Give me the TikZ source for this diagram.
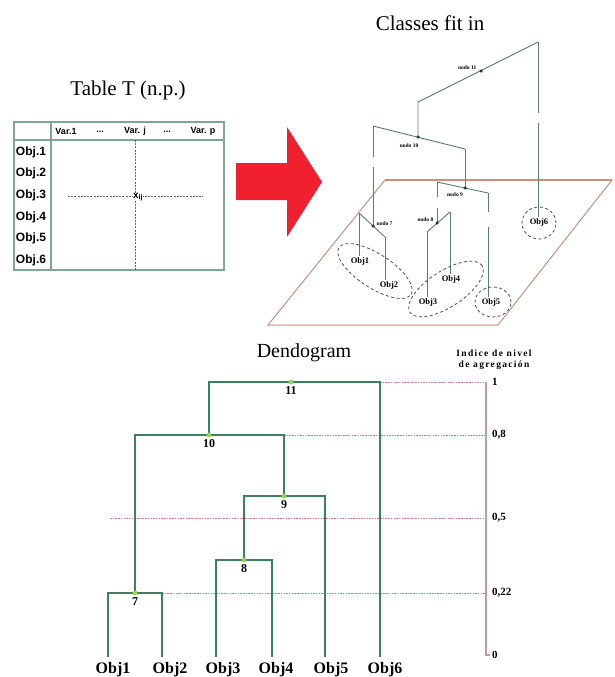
\documentclass[tikz,border=0pt]{standalone}
\usepackage{fontspec}
\usetikzlibrary{calc}
\setmainfont{Liberation Serif}
\newfontfamily\tabfont{Liberation Sans}
\newfontfamily\spacedfont[LetterSpace=14]{Liberation Serif}
\definecolor{dgreen}{HTML}{3C8060}
\definecolor{lgreen}{HTML}{9AD456}
\definecolor{rosy}{HTML}{D07888}
\definecolor{axiscol}{HTML}{C49AAA}
\definecolor{planecol}{HTML}{C8907E}
\definecolor{treecol}{HTML}{587E6E}
\definecolor{tabcol}{HTML}{7FA595}
\definecolor{arrowred}{HTML}{F0202E}
\tikzset{
  dend/.style={draw=dgreen, line width=2pt},
  gdot/.style={circle, fill=lgreen, inner sep=0pt, minimum size=5pt},
  lvl/.style={draw=rosy, line width=0.9pt, dash pattern=on 1.5pt off 1.2pt},
  numlbl/.style={font=\bfseries\fontsize{12}{12}\selectfont, anchor=north, inner sep=1pt},
  leaflbl/.style={font=\bfseries\fontsize{16}{16}\selectfont, anchor=base},
  axlbl/.style={font=\bfseries\fontsize{11}{11}\selectfont, anchor=west, inner sep=1pt},
  titlelbl/.style={font=\fontsize{20}{20}\selectfont},
  treeline/.style={draw=treecol, line width=0.9pt},
  tdot/.style={circle, fill=black!80, inner sep=0pt, minimum size=3.5pt},
  nodolbl/.style={font=\bfseries\fontsize{5.5}{6}\selectfont, inner sep=0.5pt},
  objlbl/.style={font=\bfseries\fontsize{8.5}{9}\selectfont, inner sep=0.5pt},
  clusterring/.style={draw=black!70, line width=0.8pt, dash pattern=on 3pt off 2.5pt},
  tabline/.style={draw=tabcol, line width=1.3pt},
  tabhead/.style={font=\tabfont\bfseries\fontsize{9}{9}\selectfont},
  tabrow/.style={font=\tabfont\bfseries\fontsize{12}{12}\selectfont},
  cross/.style={draw=black!60, line width=0.6pt, dash pattern=on 2pt off 1.2pt},
  plane/.style={draw=planecol, line width=1pt}
}
\begin{document}
\begin{tikzpicture}[x=1pt,y=-1pt]
\useasboundingbox (0,0) rectangle (614,677);

% ---------- titles ----------
\node[titlelbl, font=\fontsize{21}{21}\selectfont] (ttab) at (128,90) {Table T (n.p.)};
\node[titlelbl, font=\fontsize{21}{21}\selectfont] (tcls) at (430,23) {Classes fit in};
\node[titlelbl] (tden) at (304,353) {Dendogram};
\node[align=center, font=\spacedfont\bfseries\fontsize{9.5}{11}\selectfont] (tidx) at (494,360) {Indice de nivel\\de agregación};

% ---------- table ----------
\draw[tabline] (14,122) rectangle (224,270);
\draw[tabline] (14,140) -- (224,140);
\draw[tabline] (51,122) -- (51,270);
\draw[cross] (135,140) -- (135,270);
\draw[cross] (68,196) -- (203,196);
\node[fill=white, inner sep=0.3pt, font=\tabfont\bfseries\fontsize{10}{10}\selectfont] (xij) at (138,197) {x\textsubscript{ij}};
\node[tabhead] (h1) at (66,131) {Var.1};
\node[tabhead] (h2) at (100,132) {...};
\node[tabhead] (h3) at (135,131) {Var. j};
\node[tabhead] (h4) at (167,132) {...};
\node[tabhead] (h5) at (203,131) {Var. p};
\node[tabrow] (r1) at (31,152) {Obj.1};
\node[tabrow] (r2) at (31,173) {Obj.2};
\node[tabrow] (r3) at (31,195) {Obj.3};
\node[tabrow] (r4) at (31,217) {Obj.4};
\node[tabrow] (r5) at (31,238) {Obj.5};
\node[tabrow] (r6) at (31,260) {Obj.6};

% ---------- arrow ----------
\fill[arrowred] (236,163) -- (287,163) -- (287,127) -- (322,182) -- (287,237) -- (287,200) -- (236,200) -- cycle;

% ---------- 3D plane ----------
\coordinate (P1) at (385,180);
\coordinate (P2) at (612,180);
\coordinate (P3) at (498,325);
\coordinate (P4) at (268,325);
\draw[plane] (P1) -- (P2) -- (P3) -- (P4) -- cycle;
\draw[plane, line width=1.8pt] (P1) -- (P2);

% ---------- 3D tree ----------
\coordinate (T6top) at (538,42);
\coordinate (T11b) at (418,102);
\coordinate (K11) at (481,71);
\coordinate (K10) at (418,137);
\coordinate (T10l) at (373,126);
\coordinate (T10r) at (465,149);
\coordinate (K9) at (465,188);
\coordinate (T9l) at (437,182);
\coordinate (T9r) at (488,193);
\coordinate (K8) at (437,223);
\coordinate (T8l) at (427,232);
\coordinate (T8r) at (450,212);
\coordinate (K7) at (373,226);
\coordinate (T7l) at (359,213);
\coordinate (T7r) at (385,237);

\node[objlbl] (o1) at (360,261) {Obj1};
\node[objlbl] (o2) at (389,285) {Obj2};
\node[objlbl] (o3) at (428,302) {Obj3};
\node[objlbl] (o4) at (451,279) {Obj4};
\node[objlbl] (o5) at (491,302) {Obj5};
\node[objlbl] (o6) at (539,222) {Obj6};

\draw[treeline] (T6top) -- (T11b) -- (K10);
\draw[treeline] (T10l) -- (T10r);
\draw[treeline, dash pattern=on 31pt off 10pt on 200pt] (T10l) -- (K7);
\draw[treeline] (T10r) -- (K9);
\draw[treeline] (T9l) -- (T9r);
\draw[treeline, dash pattern=on 15pt off 11pt on 200pt] (T9l) -- (K8);
\draw[treeline, dash pattern=on 19pt off 15pt on 200pt] (T9r) -- (T9r |- o5.north);
\draw[treeline] (T8l) -- (T8r);
\draw[treeline] (T8l) -- (T8l |- o3.north);
\draw[treeline] (T8r) -- (T8r |- o4.north);
\draw[treeline] (T7l) -- (T7r);
\draw[treeline] (T7l) -- (T7l |- o1.north);
\draw[treeline] (T7r) -- (T7r |- o2.north);
\draw[treeline, dash pattern=on 71pt off 10pt on 200pt] (T6top) -- (T6top |- o6.north);

\node[tdot] (k11) at (K11) {};
\node[tdot] (k10) at (K10) {};
\node[tdot] (k9) at (K9) {};
\node[tdot] (k8) at (K8) {};
\node[tdot] (k7) at (K7) {};
\node[nodolbl, anchor=east] (l11) at (477,68) {nodo 11};
\node[nodolbl, anchor=east] (l10) at (419,146) {nodo 10};
\node[nodolbl] (l9) at (455,195) {nodo 9};
\node[nodolbl, anchor=east] (l8) at (434,220) {nodo 8};
\node[nodolbl, anchor=west] (l7) at (376,224) {nodo 7};

\draw[clusterring, rotate around={-33:(375,271)}] (375,271) ellipse [x radius=43pt, y radius=17pt];
\draw[clusterring, rotate around={33:(446,289)}] (446,289) ellipse [x radius=43pt, y radius=18pt];
\draw[clusterring] (493,302) ellipse [x radius=18pt, y radius=15pt];
\draw[clusterring] (539,223) ellipse [x radius=17pt, y radius=16pt];

% ---------- dendrogram ----------
\coordinate (L1) at (108,657);
\coordinate (L2) at (162,657);
\coordinate (L3) at (216,657);
\coordinate (L4) at (272,657);
\coordinate (L5) at (325,657);
\coordinate (L6) at (380,657);
\coordinate (N7) at (135,593);
\coordinate (N8) at (244,560);
\coordinate (N9) at (284,496);
\coordinate (N10) at (209,435);
\coordinate (N11) at (291,382);
\coordinate (A1) at (486,382);
\coordinate (A08) at (486,435);
\coordinate (A05) at (486,518);
\coordinate (A022) at (486,593);
\coordinate (A0) at (486,655);
\coordinate (D05) at (110,518);

\draw[lvl] (L6 |- N11) -- (A1);
\draw[lvl] (N9 |- N10) -- (A08);
\draw[lvl] (D05) -- (A05);
\draw[lvl] (L2 |- N7) -- (A022);
\draw[draw=axiscol, line width=1.6pt] (A1) -- (A0) -- ++(4,0);

\node[axlbl] (a1) at (491,382) {1};
\node[axlbl] (a08) at (491,435) {0,8};
\node[axlbl] (a05) at (491,518) {0,5};
\node[axlbl] (a022) at (491,593) {0,22};
\node[axlbl] (a0) at (491,655) {0};

\draw[dend] (L1) |- (N7) -| (L2);
\draw[dend] (L3) |- (N8) -| (L4);
\draw[dend] (N8) |- (N9) -| (L5);
\draw[dend] (N7) |- (N10) -| (N9);
\draw[dend] (N10) |- (N11) -| (L6);

\node[gdot] (d7) at (N7) {};
\node[gdot] (d8) at (N8) {};
\node[gdot] (d9) at (N9) {};
\node[gdot] (d10) at (N10) {};
\node[gdot] (d11) at (N11) {};
\node[numlbl] (n7) at ($(N7)+(0,3)$) {7};
\node[numlbl] (n8) at ($(N8)+(0,3)$) {8};
\node[numlbl] (n9) at ($(N9)+(0,3)$) {9};
\node[numlbl] (n10) at ($(N10)+(0,3)$) {10};
\node[numlbl] (n11) at ($(N11)+(0,3)$) {11};

\node[leaflbl] (b1) at (113,673) {Obj1};
\node[leaflbl] (b2) at (170,673) {Obj2};
\node[leaflbl] (b3) at (223,673) {Obj3};
\node[leaflbl] (b4) at (276,673) {Obj4};
\node[leaflbl] (b5) at (331,673) {Obj5};
\node[leaflbl] (b6) at (385,673) {Obj6};
\end{tikzpicture}
\end{document}
